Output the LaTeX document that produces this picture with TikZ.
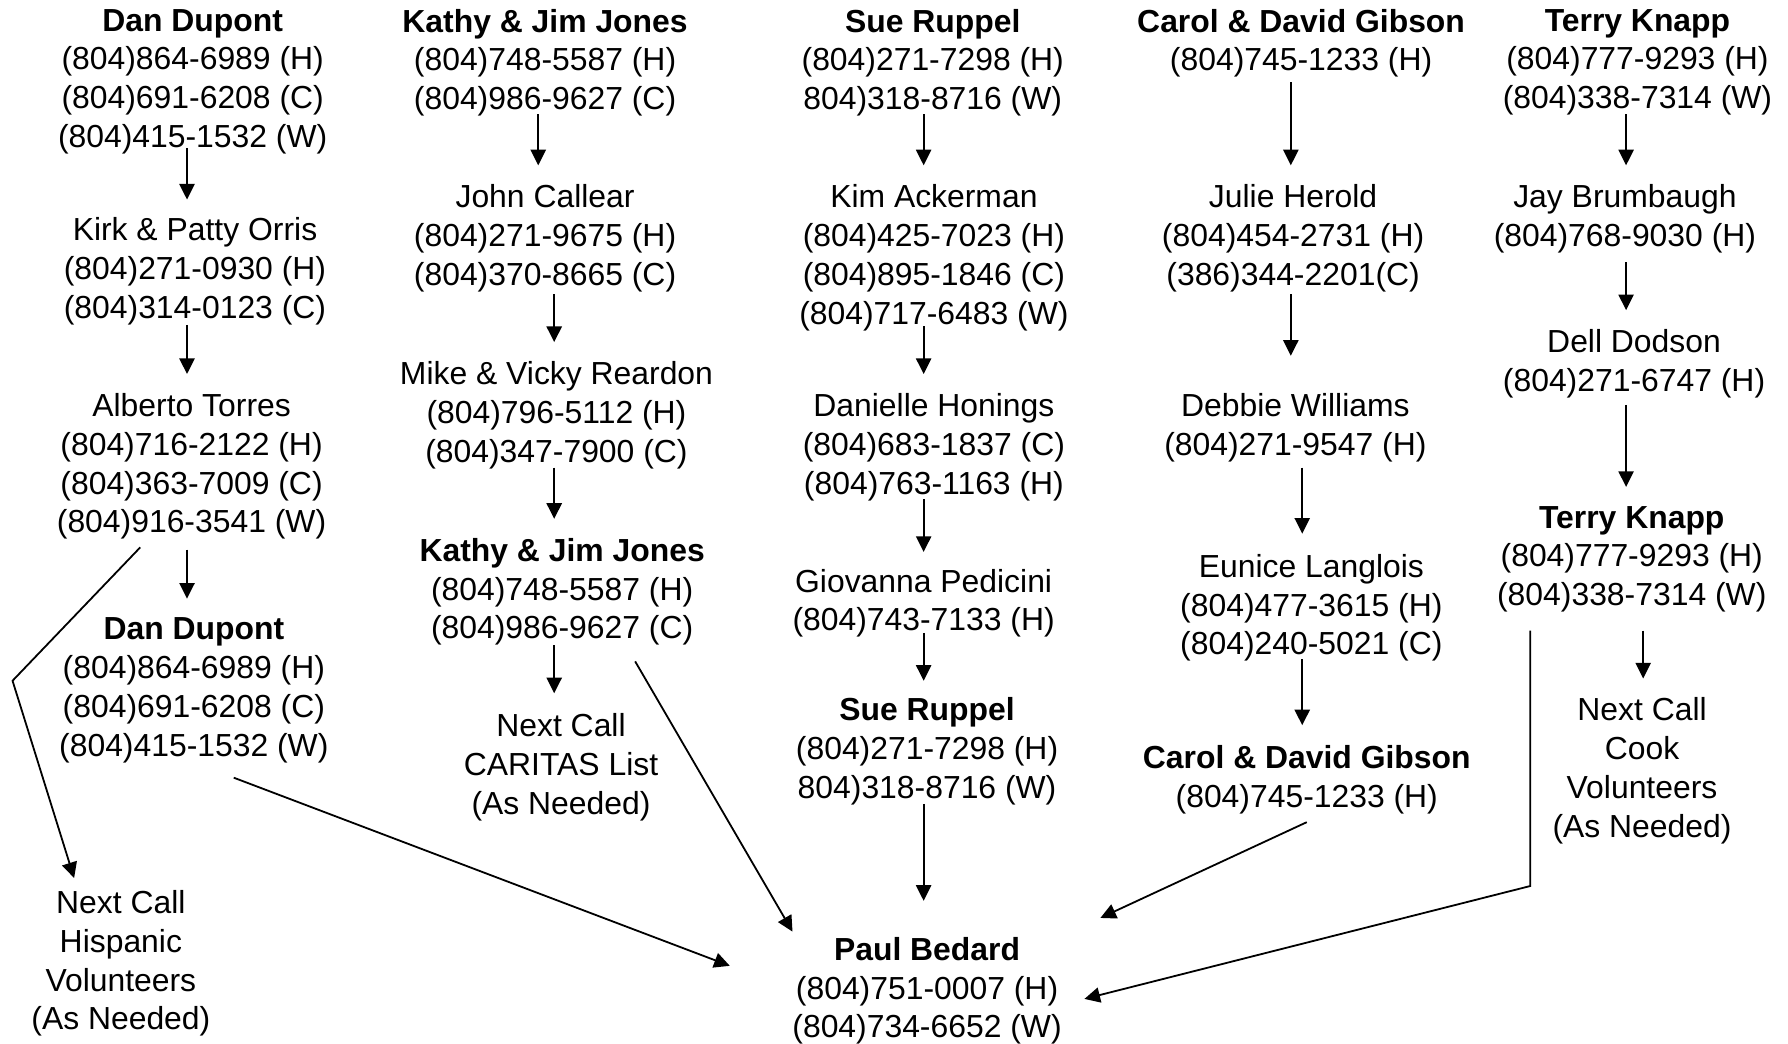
\documentclass[tikz,border=0pt]{standalone}
\usepackage{fontspec}
\setmainfont{Liberation Sans}
\usetikzlibrary{calc,arrows.meta}
\begin{document}
\begin{tikzpicture}[x=0.57015pt,y=-0.57015pt,
  lbl/.style={anchor=north,inner sep=0pt,outer sep=0pt,align=center,font=\fontsize{15.94pt}{19.385pt}\selectfont},
  arr/.style={line width=0.9pt,-{Triangle[length=7.8pt,width=7.6pt]}},
  ln/.style={line width=0.9pt}]
\fill[white] (0,0) rectangle (1568,915);
\useasboundingbox (0,0) rectangle (1568,915);
% column 1
\node[lbl] (dd1) at (169,8) {\textbf{Dan Dupont}\\(804)864-6989 (H)\\(804)691-6208 (C)\\(804)415-1532 (W)};
\node[lbl] (kpo) at (171,191) {Kirk \& Patty Orris\\(804)271-0930 (H)\\(804)314-0123 (C)};
\node[lbl] (at) at (168,345) {Alberto Torres\\(804)716-2122 (H)\\(804)363-7009 (C)\\(804)916-3541 (W)};
\node[lbl] (dd2) at (170,542) {\textbf{Dan Dupont}\\(804)864-6989 (H)\\(804)691-6208 (C)\\(804)415-1532 (W)};
\node[lbl] (nch) at (106,781) {Next Call\\Hispanic\\Volunteers\\(As Needed)};
% column 2
\node[lbl] (kj1) at (478,8) {\textbf{Kathy \& Jim Jones}\\(804)748-5587 (H)\\(804)986-9627 (C)};
\node[lbl] (jc) at (478,162) {John Callear\\(804)271-9675 (H)\\(804)370-8665 (C)};
\node[lbl] (mvr) at (488,317) {Mike \& Vicky Reardon\\(804)796-5112 (H)\\(804)347-7900 (C)};
\node[lbl] (kj2) at (493,472) {\textbf{Kathy \& Jim Jones}\\(804)748-5587 (H)\\(804)986-9627 (C)};
\node[lbl] (ncc) at (492,626) {Next Call\\CARITAS List\\(As Needed)};
% column 3
\node[lbl] (sr1) at (818,8) {\textbf{Sue Ruppel}\\(804)271-7298 (H)\\804)318-8716 (W)};
\node[lbl] (ka) at (819,162) {Kim Ackerman\\(804)425-7023 (H)\\(804)895-1846 (C)\\(804)717-6483 (W)};
\node[lbl] (dh) at (819,345) {Danielle Honings\\(804)683-1837 (C)\\(804)763-1163 (H)};
\node[lbl] (gp) at (810,499) {Giovanna Pedicini\\(804)743-7133 (H)};
\node[lbl] (sr2) at (813,612) {\textbf{Sue Ruppel}\\(804)271-7298 (H)\\804)318-8716 (W)};
\node[lbl] (pb) at (813,822) {\textbf{Paul Bedard}\\(804)751-0007 (H)\\(804)734-6652 (W)};
% column 4
\node[lbl] (cg1) at (1141,8) {\textbf{Carol \& David Gibson}\\(804)745-1233 (H)};
\node[lbl] (jh) at (1134,162) {Julie Herold\\(804)454-2731 (H)\\(386)344-2201(C)};
\node[lbl] (dw) at (1136,345) {Debbie Williams\\(804)271-9547 (H)};
\node[lbl] (el) at (1150,486) {Eunice Langlois\\(804)477-3615 (H)\\(804)240-5021 (C)};
\node[lbl] (cg2) at (1146,654) {\textbf{Carol \& David Gibson}\\(804)745-1233 (H)};
% column 5
\node[lbl] (tk1) at (1436,8) {\textbf{Terry Knapp}\\(804)777-9293 (H)\\(804)338-7314 (W)};
\node[lbl] (jb) at (1425,162) {Jay Brumbaugh\\(804)768-9030 (H)};
\node[lbl] (ddo) at (1433,289) {Dell Dodson\\(804)271-6747 (H)};
\node[lbl] (tk2) at (1431,444) {\textbf{Terry Knapp}\\(804)777-9293 (H)\\(804)338-7314 (W)};
\node[lbl] (ncv) at (1440,612) {Next Call\\Cook\\Volunteers\\(As Needed)};
% corners
\coordinate (c1) at (11,597);
\coordinate (c2) at (1342,777);
% connectors column 1
\draw[arr] ($(dd1.north)+(-5,122)$) -- ($(kpo.north)+(-7,-16)$);
\draw[arr] ($(kpo.north)+(-7,94)$) -- ($(at.north)+(-4,-17)$);
\draw[arr] ($(at.north)+(-4,137)$) -- ($(dd2.north)+(-6,-17)$);
\draw[arr] ($(at.north)+(-45,135)$) -- (c1) -- ($(nch.north)+(-41,-11)$);
\draw[arr] ($(dd2.north)+(35,140)$) -- ($(pb.north)+(-173,25)$);
% column 2
\draw[arr] ($(kj1.north)+(-6,92)$) -- ($(jc.north)+(-6,-17)$);
\draw[arr] ($(jc.north)+(8,96)$) -- ($(mvr.north)+(-2,-17)$);
\draw[arr] ($(mvr.north)+(-2,93)$) -- ($(kj2.north)+(-7,-17)$);
\draw[arr] ($(kj2.north)+(-7,94)$) -- ($(ncc.north)+(-6,-18)$);
\draw[arr] ($(kj2.north)+(64,108)$) -- ($(pb.north)+(-118,-5)$);
% column 3
\draw[arr] ($(sr1.north)+(-8,92)$) -- ($(ka.north)+(-9,-17)$);
\draw[arr] ($(ka.north)+(-9,124)$) -- ($(dh.north)+(-9,-17)$);
\draw[arr] ($(dh.north)+(-9,93)$) -- ($(gp.north)+(0,-15)$);
\draw[arr] ($(gp.north)+(0,56)$) -- ($(sr2.north)+(-3,-15)$);
\draw[arr] ($(sr2.north)+(-3,93)$) -- ($(pb.north)+(-3,-32)$);
% column 4
\draw[arr] ($(cg1.north)+(-9,64)$) -- ($(jh.north)+(-2,-17)$);
\draw[arr] ($(jh.north)+(-2,96)$) -- ($(dw.north)+(-4,-33)$);
\draw[arr] ($(dw.north)+(6,65)$) -- ($(el.north)+(-8,-18)$);
\draw[arr] ($(el.north)+(-8,92)$) -- ($(cg2.north)+(-4,-18)$);
\draw[arr] ($(cg2.north)+(0,67)$) -- ($(pb.north)+(152,-17)$);
% column 5
\draw[arr] ($(tk1.north)+(-10,92)$) -- ($(jb.north)+(1,-17)$);
\draw[arr] ($(jb.north)+(1,68)$) -- ($(ddo.north)+(-7,-17)$);
\draw[arr] ($(ddo.north)+(-7,66)$) -- ($(tk2.north)+(-5,-17)$);
\draw[arr] ($(tk2.north)+(10,109)$) -- ($(ncv.north)+(1,-17)$);
\draw[arr] ($(tk2.north)+(-89,109)$) -- (c2) -- ($(pb.north)+(138,54)$);
\end{tikzpicture}
\end{document}
